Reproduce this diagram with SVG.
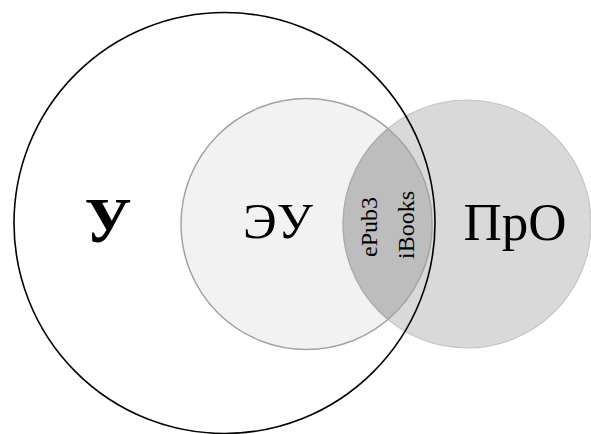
<svg xmlns="http://www.w3.org/2000/svg" width="591" height="434" viewBox="0 0 591 434">
<style>
.lbl{font-family:"Liberation Serif","DejaVu Serif",serif;fill:#000;text-anchor:middle}
.big{font-size:51px}
.small{font-size:24px}
</style>
<rect width="591" height="434" fill="#fff"/>
<g id="eu">
<circle cx="306.5" cy="224" r="125.5" fill="#f2f2f2" stroke="#a3a3a3" stroke-width="1.5"/>
</g>
<g id="pro">
<circle cx="467" cy="224" r="124" fill="#d9d9d9" stroke="#c4c4c4" stroke-width="1.2"/>
</g>
<g id="lens">
<path d="M388,128.5 A124,124 0 0,0 388,319.5 A125.5,125.5 0 0,0 388,128.5 Z" fill="#bdbdbd"/>
<path d="M388,128.5 A124,124 0 0,0 388,319.5" fill="none" stroke="#ababab" stroke-width="1.2"/>
<path d="M388,319.5 A125.5,125.5 0 0,0 388,128.5" fill="none" stroke="#a3a3a3" stroke-width="1.5"/>
</g>
<g id="u">
<circle cx="224.5" cy="223" r="210.5" fill="none" stroke="#000" stroke-width="1.6"/>
</g>
<g id="labels">
<text class="lbl" x="108" y="242" font-size="64" font-weight="bold">У</text>
<text class="lbl big" x="278" y="238">ЭУ</text>
<text class="lbl" x="515" y="240" font-size="53">ПрО</text>
<text class="lbl small" transform="translate(377,227) rotate(-90)">ePub3</text>
<text class="lbl small" transform="translate(414,225) rotate(-90)">iBooks</text>
</g>
</svg>
